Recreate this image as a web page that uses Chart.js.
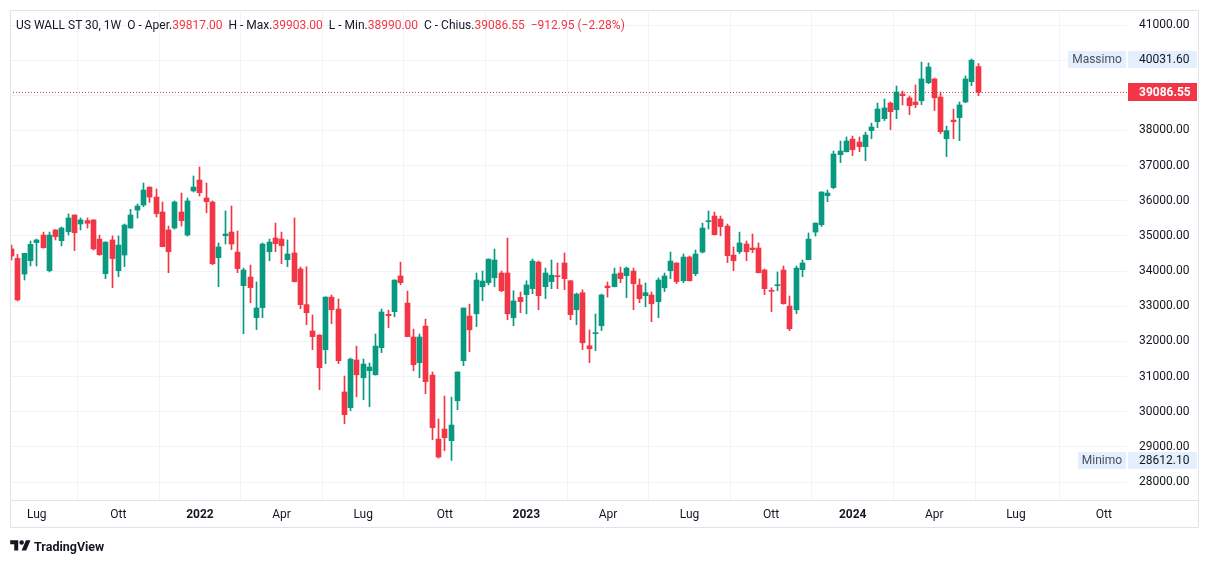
<!DOCTYPE html>
<html>
<head>
<meta charset="utf-8">
<title>US WALL ST 30, 1W</title>
<script src="https://cdn.jsdelivr.net/npm/chart.js@4.4.1/dist/chart.umd.min.js"></script>
<style>
  html, body { margin: 0; padding: 0; background: #fff; }
  #wrap { position: relative; width: 1209px; height: 564px; font-family: Roboto, "Noto Sans", sans-serif; color: #131722; }
  #chart { position: absolute; left: 0; top: 0; }
  #header { position: absolute; left: 16px; top: 18px; font-size: 12px; white-space: pre; line-height: 14px; }
  #header .v { color: #f23645; }
  #logo { position: absolute; left: 10px; top: 538px; display: flex; align-items: center; font-size: 12.5px; font-weight: bold; }
  #logo svg { margin-right: 3px; }
</style>
</head>
<body>
<div id="wrap">
  <canvas id="chart" width="1209" height="564"></canvas>
  <div id="header"></div>
  <div id="logo">
    <svg width="21" height="16" viewBox="0 0 36 28"><path fill="#131722" d="M14 22H7V11H0V4h14v18zM28 22h-8l7.5-18h8L28 22z"/><circle fill="#131722" cx="20" cy="8" r="4"/></svg>
    <span>TradingView</span>
  </div>
</div>
<script>
// weekly candles, Jun 2021 -> May 2024 (index 0 = week of 7 Jun 2021)
const opens = [
  34630, 34360, 33915, 34295, 34810, 35025, 34010, 35170, 34865, 35120,
  35595, 35340, 35435, 35455, 34910, 33925, 34885, 34010, 34455, 35225,
  35735, 35880, 36390, 36105, 35680, 35170, 35225, 35680, 35025, 36280,
  36590, 36080, 35965, 34380, 35005, 35110, 34540, 33585, 33830, 32675,
  32960, 34550, 34940, 34910, 34325, 34515, 34060, 33045, 32295, 32180,
  31765, 33260, 32920, 30560, 30115, 31470, 30965, 31165, 31050, 31820,
  32770, 32845, 33860, 33090, 32125, 31395, 32435, 31040, 29220, 29505,
  29175, 30310, 31450, 32720, 32785, 33555, 33670, 33810, 33945, 33945,
  32675, 33250, 33330, 33500, 34255, 33555, 33700, 33860, 34230, 33725,
  32900, 33385, 31875, 32220, 32445, 33575, 33555, 33945, 33870, 34000,
  33605, 33300, 33320, 33130, 33525, 34010, 34230, 33725, 34400, 33925,
  34540, 35405, 35565, 35480, 35280, 34455, 34550, 34770, 34655, 34655,
  34030, 33440, 33585, 34030, 33005, 32900, 34040, 34325, 35110, 35320,
  36145, 36375, 37310, 37395, 37755, 37670, 37540, 37995, 38250, 38335,
  38780, 38590, 39035, 38925, 38810, 38845, 39360, 39465, 38950, 37765,
  38295, 38365, 38810, 39390, 39817
];
const highs = [
  34740, 34475, 34505, 34855, 34910, 35110, 35110, 35180, 35255, 35625,
  35600, 35510, 35510, 35460, 35025, 34830, 35000, 35000, 35340, 35755,
  35910, 36505, 36395, 36335, 35965, 35280, 35995, 36220, 36080, 36705,
  36960, 36505, 35995, 34800, 35710, 35850, 35140, 34085, 34170, 33690,
  34800, 34910, 35365, 35110, 34885, 35510, 34115, 34125, 32750, 32190,
  33270, 33320, 33205, 31015, 31525, 31865, 31500, 31385, 32210, 32920,
  32890, 33750, 34255, 33430, 32350, 32210, 32635, 31130, 29790, 30445,
  30415, 31130, 32950, 33060, 33945, 34000, 34345, 34625, 34000, 34940,
  33440, 33405, 33725, 34345, 34285, 34085, 34315, 34230, 34515, 33730,
  33375, 33470, 32325, 32780, 33345, 33690, 34085, 34115, 34115, 34085,
  33775, 33660, 33405, 33805, 33945, 34540, 34235, 34485, 34430, 34600,
  35365, 35710, 35680, 35565, 35340, 34685, 35110, 34855, 35055, 34800,
  34060, 33525, 33975, 34145, 33290, 34145, 34315, 35085, 35370, 36255,
  36305, 37415, 37700, 37815, 37840, 37815, 37955, 38210, 38780, 38895,
  38810, 39265, 39120, 38980, 39295, 39945, 39920, 39490, 39095, 38125,
  38610, 38810, 39550, 40031.6, 39903
];
const lows = [
  34315, 33150, 33745, 34145, 34145, 34650, 33975, 34885, 34715, 35025,
  34580, 35170, 35225, 34600, 34450, 33785, 33530, 33840, 34125, 35220,
  35510, 35830, 35955, 35540, 34690, 33955, 35195, 35280, 34995, 36250,
  36135, 35660, 34180, 33555, 34770, 34610, 33955, 32220, 33100, 32335,
  32675, 34295, 34550, 34210, 34125, 33690, 32930, 32475, 31765, 30625,
  31365, 32505, 31365, 29660, 30030, 30425, 30340, 30140, 31040, 31680,
  32390, 32700, 33610, 32130, 31165, 30965, 30510, 29205, 28680, 28890,
  28612.1, 30055, 31310, 31705, 32420, 33155, 33610, 33555, 33415, 32615,
  32445, 32815, 32785, 33355, 32900, 33215, 33500, 33500, 33470, 32615,
  32475, 31765, 31395, 31735, 32305, 33260, 33550, 33670, 33245, 32900,
  33100, 32985, 32560, 32675, 33415, 33785, 33640, 33670, 33715, 33870,
  34515, 35195, 35025, 35005, 34240, 34010, 34495, 34295, 34525, 33945,
  33330, 32845, 33440, 33060, 32305, 32790, 33840, 34320, 34995, 35265,
  35975, 36345, 37085, 37390, 37285, 37395, 37140, 37765, 38080, 38280,
  38025, 38335, 38725, 38450, 38650, 38735, 39330, 38565, 37910, 37255,
  37765, 37710, 38790, 39275, 38990
];
const closes = [
  34430, 33180, 34505, 34760, 34885, 34665, 35025, 34980, 35225, 35510,
  35090, 35455, 35360, 34630, 34465, 34825, 34355, 34740, 35310, 35595,
  35850, 36305, 36105, 35635, 34695, 34550, 35965, 35435, 35995, 36390,
  36230, 35975, 34210, 34685, 35055, 34770, 34070, 34030, 33530, 32950,
  34770, 34825, 34780, 34720, 34485, 33700, 33045, 32815, 32135, 31250,
  33260, 32900, 31450, 29915, 31495, 31050, 31355, 31270, 31865, 32835,
  32730, 33745, 33670, 32135, 31335, 32125, 30855, 29545, 28710, 29260,
  29620, 31130, 32950, 32330, 33745, 33715, 34340, 34315, 33440, 32785,
  33150, 33130, 33605, 34285, 33300, 33945, 33885, 33840, 33785, 32760,
  33345, 31960, 31790, 32245, 33320, 33525, 33915, 33785, 34085, 33640,
  33215, 33385, 33070, 33745, 33860, 34285, 33700, 34400, 33725, 34485,
  35225, 35425, 35035, 35265, 34440, 34295, 34800, 34550, 34610, 33955,
  33500, 33425, 33605, 33070, 32360, 34085, 34230, 34910, 35365, 36250,
  36220, 37330, 37415, 37700, 37455, 37540, 37870, 38100, 38610, 38640,
  38535, 39095, 38990, 38705, 38735, 39465, 39805, 38930, 37965, 37995,
  38250, 38725, 39465, 39999.5, 39086.55
];

// time axis: bar index of the first week of each labelled month
const tickIndex = [4, 17, 30, 43, 56, 69, 82, 95, 108, 121, 134, 147, 160, 174];
const tickLabels = ['Lug', 'Ott', '2022', 'Apr', 'Lug', 'Ott', '2023', 'Apr', 'Lug', 'Ott', '2024', 'Apr', 'Lug', 'Ott'];
const priceTicks = [28000, 29000, 30000, 31000, 32000, 33000, 34000, 35000, 36000, 37000, 38000, 39000, 40000, 41000];

const UP = '#089981';
const DOWN = '#f23645';
const GRID = '#f0f3fa';
const FRAME = '#e0e3eb';
const TEXT = '#131722';
const FONT = 'Roboto, "Noto Sans", sans-serif';

const last = closes.length - 1;
const maxHigh = Math.max(...highs);
const minLow = Math.min(...lows);
const prevClose = closes[last - 1];
const change = closes[last] - prevClose;

// header line
const fmt = v => v.toFixed(2);
const minus = v => (v < 0 ? '\u2212' : '+') + fmt(Math.abs(v));
document.getElementById('header').innerHTML =
  'US WALL ST 30, 1W  O - Aper.<span class="v">' + fmt(opens[last]) + '</span>' +
  '  H - Max.<span class="v">' + fmt(highs[last]) + '</span>' +
  '  L - Min.<span class="v">' + fmt(lows[last]) + '</span>' +
  '  C - Chius.<span class="v">' + fmt(closes[last]) + '</span>' +
  '<span class="v">  ' + minus(change) + ' (' + minus(change / prevClose * 100) + '%)</span>';

const colors = closes.map((c, i) => (c >= opens[i] ? UP : DOWN));
const wickData = lows.map((l, i) => ({ x: i, y: [l, highs[i]] }));
const bodyData = opens.map((o, i) => ({ x: i, y: [Math.min(o, closes[i]), Math.max(o, closes[i])] }));

// snap candles on whole pixels like the original
const snapPlugin = {
  id: 'snap',
  afterDatasetsUpdate(chart) {
    chart.getSortedVisibleDatasetMetas().forEach(meta => {
      meta.data.forEach(el => { el.x = Math.floor(el.x) + 0.5; });
    });
  }
};

function box(ctx, x, y, w, h, bg, txt, color, font, align) {
  ctx.fillStyle = bg;
  ctx.fillRect(x, y, w, h);
  ctx.fillStyle = color;
  ctx.font = font;
  ctx.textBaseline = 'middle';
  ctx.textAlign = align;
  ctx.fillText(txt, align === 'left' ? x + 11 : x + w / 2, y + h / 2 + 0.5);
}

const overlayPlugin = {
  id: 'overlay',
  beforeDatasetsDraw(chart) {
    const { ctx, chartArea: a, scales: { y } } = chart;
    // last price dotted line
    const py = Math.round(y.getPixelForValue(closes[last])) + 0.5;
    ctx.save();
    ctx.strokeStyle = DOWN;
    ctx.lineWidth = 1;
    ctx.setLineDash([1, 2]);
    ctx.beginPath();
    ctx.moveTo(a.left, py);
    ctx.lineTo(a.right, py);
    ctx.stroke();
    ctx.restore();
  },
  afterDraw(chart) {
    const { ctx, chartArea: a, scales: { y } } = chart;
    ctx.save();
    // frame
    ctx.strokeStyle = FRAME;
    ctx.lineWidth = 1;
    ctx.beginPath();
    ctx.rect(10.5, 10.5, 1188, 517);
    ctx.moveTo(10, a.bottom + 0.5);
    ctx.lineTo(1198, a.bottom + 0.5);
    ctx.stroke();

    const small = '12px ' + FONT;
    const bx = a.right + 1;
    const bw = 69;
    // highest / lowest labels
    [[maxHigh, 'Massimo'], [minLow, 'Minimo']].forEach(([v, name]) => {
      const cy = y.getPixelForValue(v);
      const top = Math.round(cy - 8.5);
      ctx.font = small;
      const nw = Math.round(ctx.measureText(name).width) + 9;
      box(ctx, a.right - nw, top, nw - 1, 17, '#e3effd', name, '#4a4f5c', small, 'center');
      box(ctx, bx, top, bw, 17, '#e3effd', fmt(v), TEXT, small, 'left');
    });
    // last price
    const cy = y.getPixelForValue(closes[last]);
    box(ctx, bx, Math.round(cy - 9), bw, 18, DOWN, fmt(closes[last]), '#ffffff', 'bold 12px ' + FONT, 'left');
    ctx.restore();
  }
};

const pxPer = 457 / 13000; // 41000 at y=25, 28000 at y=482, plot 10..500
new Chart(document.getElementById('chart'), {
  type: 'bar',
  data: {
    datasets: [
      {
        data: bodyData,
        backgroundColor: colors,
        barThickness: 5,
        minBarLength: 1,
        grouped: false,
        order: 0
      },
      {
        data: wickData,
        backgroundColor: colors,
        barThickness: 1,
        grouped: false,
        order: 1
      }
    ]
  },
  options: {
    responsive: false,
    animation: false,
    events: [],
    layout: { padding: { left: 10, top: 10, right: 11, bottom: 37 } },
    plugins: { legend: { display: false }, tooltip: { enabled: false } },
    scales: {
      x: {
        type: 'linear',
        min: -0.27,
        max: 177.7,
        offset: false,
        afterBuildTicks: s => { s.ticks = tickIndex.map(v => ({ value: v })); },
        afterFit: s => { s.height = 27; s.paddingLeft = 0; s.paddingRight = 0; },
        grid: { color: GRID, drawTicks: false },
        border: { display: false },
        ticks: {
          autoSkip: false,
          maxRotation: 0,
          padding: 8,
          color: TEXT,
          font: c => ({ family: FONT, size: 12, weight: /^\d{4}$/.test(tickLabels[tickIndex.indexOf(c.tick ? c.tick.value : -1)] || '') ? 'bold' : 'normal' }),
          callback: v => tickLabels[tickIndex.indexOf(v)]
        }
      },
      y: {
        position: 'right',
        min: 28000 - 18 / pxPer,
        max: 41000 + 15 / pxPer,
        afterBuildTicks: s => { s.ticks = priceTicks.map(v => ({ value: v })); },
        afterFit: s => { s.width = 71; s.paddingTop = 0; s.paddingBottom = 0; },
        grid: { color: GRID, drawTicks: false },
        border: { display: false },
        ticks: {
          padding: 12,
          color: TEXT,
          font: { family: FONT, size: 12 },
          callback: function (v) {
            const p = this.getPixelForValue(v);
            for (const m of [maxHigh, minLow, closes[last]]) {
              if (Math.abs(this.getPixelForValue(m) - p) < 12) return '';
            }
            return fmt(v);
          }
        }
      }
    }
  },
  plugins: [snapPlugin, overlayPlugin]
});
</script>
</body>
</html>
